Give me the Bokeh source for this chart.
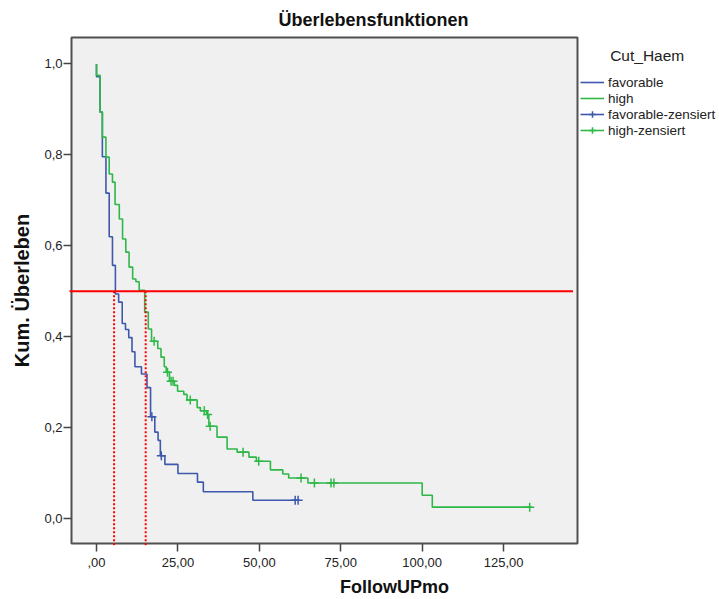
from bokeh.plotting import figure
from bokeh.models import Range1d, FixedTicker, Legend, LegendItem, Arrow
from bokeh.embed import file_html
from bokeh.resources import INLINE

# ---------------- data ----------------
fav_time = [0, 0, 1.1, 1.8, 2.9, 3.9, 4.9, 5.8, 6.8, 7.9, 8.9, 9.9, 10.9, 11.8,
            13.8, 15.5, 16.6, 17.9, 18.9, 19.6, 21.0, 25.0, 31.0, 32.8, 48.0, 62.0]
fav_surv = [1.0, 0.972, 0.894, 0.796, 0.716, 0.620, 0.557, 0.494, 0.476, 0.429,
            0.416, 0.398, 0.367, 0.334, 0.318, 0.288, 0.224, 0.190, 0.172, 0.138,
            0.119, 0.099, 0.080, 0.059, 0.040, 0.040]
fav_cens_time = [17.0, 19.9, 61.0, 61.9]
fav_cens_surv = [0.224, 0.138, 0.040, 0.040]

high_time = [0, 0, 1.1, 1.8, 2.9, 3.9, 4.9, 5.7, 7.0, 8.0, 9.0, 10.0, 11.1, 12.1,
             13.1, 14.8, 15.9, 16.9, 18.8, 19.8, 20.8, 21.4, 22.4, 23.9, 24.9, 26.8,
             27.8, 30.9, 31.9, 33.8, 34.5, 37.0, 40.1, 43.2, 46.8, 49.1, 53.4, 57.2,
             59.0, 64.9, 100.0, 103.1, 133.6]
high_surv = [1.0, 0.975, 0.894, 0.839, 0.795, 0.758, 0.740, 0.691, 0.659, 0.615,
             0.586, 0.553, 0.527, 0.521, 0.502, 0.454, 0.417, 0.390, 0.374, 0.355,
             0.334, 0.322, 0.302, 0.293, 0.280, 0.273, 0.261, 0.244, 0.237, 0.229,
             0.203, 0.179, 0.153, 0.146, 0.135, 0.126, 0.107, 0.098, 0.089, 0.078,
             0.051, 0.025, 0.025]
high_cens_time = [17.7, 21.8, 22.9, 23.5, 28.8, 33.1, 34.1, 34.9, 45.0, 49.8,
                  62.8, 66.9, 72.0, 72.9, 133.0]
high_cens_surv = [0.390, 0.322, 0.302, 0.302, 0.261, 0.237, 0.229, 0.203, 0.146,
                  0.126, 0.089, 0.078, 0.078, 0.078, 0.025]

median_fav = 5.4
median_high = 15.1
ref_level = 0.5

group_labels = ["favorable", "high", "favorable-zensiert", "high-zensiert"]
legend_title = "Cut_Haem"
x_ticks = [0, 25, 50, 75, 100, 125]
x_tick_labels = [",00", "25,00", "50,00", "75,00", "100,00", "125,00"]
y_ticks = [0, 0.2, 0.4, 0.6, 0.8, 1]
y_tick_labels = ["0,0", "0,2", "0,4", "0,6", "0,8", "1,0"]

# axis extents of the plot box (data units)
x_min, x_max = -7.676, 147.68
y_min, y_max = -0.055, 1.0583

# ---------------- styling ----------------
BLUE = "#3E58AC"
GREEN = "#2EB848"
RED = "#FF0000"
FONT = "Liberation Sans"

# the Bokeh frame extends to the right edge so the legend can live in it;
# the grey plot box is drawn over the axis extents
p = figure(width=719, height=599,
           x_range=Range1d(-8.29, 191.28), y_range=Range1d(-0.0594, 1.0627),
           output_backend="svg", toolbar_location=None,
           min_border_left=69, min_border_right=0,
           min_border_top=35, min_border_bottom=54)

p.background_fill_color = "white"
p.border_fill_color = "white"
p.outline_line_color = None
p.xgrid.visible = False
p.ygrid.visible = False

p.quad(left=[x_min], right=[x_max], bottom=[y_min], top=[y_max],
       fill_color="#F0F0F0", line_color="#505050", line_width=2)

p.title.text = "Überlebensfunktionen"
p.title.align = "left"
p.title.offset = 209
p.title.standoff = 12
p.title.text_font = FONT
p.title.text_font_size = "18px"
p.title.text_font_style = "bold"
p.title.text_color = "#111111"

for ax in (p.xaxis[0], p.yaxis[0]):
    ax.axis_line_color = None
    ax.major_tick_line_color = "#444444"
    ax.major_tick_line_width = 1.5
    ax.major_tick_in = 2
    ax.major_tick_out = 6
    ax.minor_tick_line_color = None
    ax.major_label_text_font = FONT
    ax.major_label_text_font_size = "13px"
    ax.major_label_text_color = "#222222"
    ax.axis_label_text_font = FONT
    ax.axis_label_text_font_style = "bold"
    ax.axis_label_text_color = "#111111"

p.xaxis.bounds = (x_min, x_max)
p.xaxis.ticker = FixedTicker(ticks=x_ticks)
p.xaxis.major_label_overrides = dict(zip(x_ticks, x_tick_labels))
p.xaxis.major_label_standoff = 6
p.xaxis.axis_label = "FollowUPmo"
p.xaxis.axis_label_text_font_size = "18px"
p.xaxis.axis_label_standoff = 7

p.yaxis.bounds = (y_min, y_max)
p.yaxis.ticker = FixedTicker(ticks=y_ticks)
p.yaxis.major_label_overrides = dict(zip(y_ticks, y_tick_labels))
p.yaxis.major_label_standoff = 1
p.yaxis.axis_label = "Kum. Überleben"
p.yaxis.axis_label_text_font_size = "20px"
p.yaxis.axis_label_standoff = 8

# ---------------- survival curves ----------------
r_fav = p.step(fav_time, fav_surv, mode="after", line_color=BLUE, line_width=1.6)
r_high = p.step(high_time, high_surv, mode="after", line_color=GREEN, line_width=1.6)
r_fav_c = p.scatter(fav_cens_time, fav_cens_surv, marker="cross", size=9,
                    line_color=BLUE, line_width=1.5)
r_high_c = p.scatter(high_cens_time, high_cens_surv, marker="cross", size=9,
                     line_color=GREEN, line_width=1.5)

# ---------------- reference lines ----------------
p.add_layout(Arrow(x_start=-9.8, y_start=ref_level, x_end=146.3, y_end=ref_level,
                   end=None, line_color=RED, line_width=2))
for m in (median_fav, median_high):
    p.add_layout(Arrow(x_start=m, y_start=ref_level, x_end=m, y_end=-0.086,
                       end=None, line_color=RED, line_width=2, line_dash="2 2"))

# ---------------- legend ----------------
legend = Legend(items=[
    LegendItem(label=group_labels[0], renderers=[r_fav]),
    LegendItem(label=group_labels[1], renderers=[r_high]),
    LegendItem(label=group_labels[2], renderers=[r_fav, r_fav_c]),
    LegendItem(label=group_labels[3], renderers=[r_high, r_high_c]),
], location=(511, 407), orientation="vertical")
legend.title = "\u00a0" * 7 + legend_title
legend.title_text_font = FONT
legend.title_text_font_size = "15.5px"
legend.title_text_font_style = "normal"
legend.title_text_color = "#222222"
legend.title_standoff = 9
legend.border_line_color = None
legend.background_fill_alpha = 0
legend.padding = 0
legend.margin = 0
legend.spacing = 0
legend.glyph_width = 24
legend.glyph_height = 16
legend.label_height = 16
legend.label_standoff = 4
legend.label_text_font = FONT
legend.label_text_font_size = "13.5px"
legend.label_text_color = "#222222"
p.add_layout(legend)

open("out.html", "w").write(file_html(p, INLINE))
